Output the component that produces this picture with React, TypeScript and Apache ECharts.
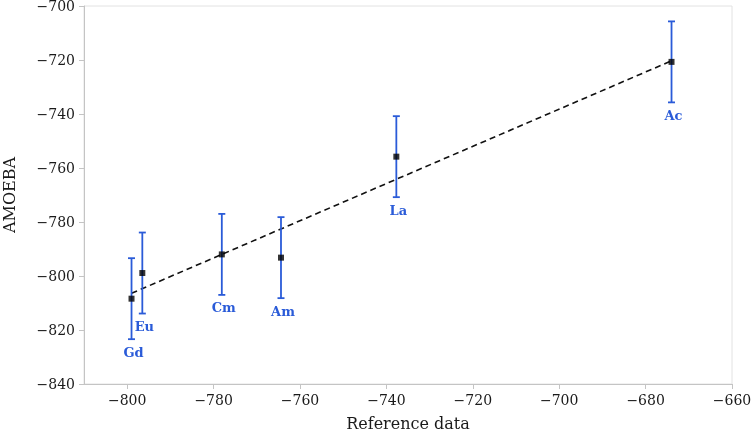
import React, { useEffect, useRef } from "react";
import * as echarts from "echarts";

const elements = ["Gd", "Eu", "Cm", "Am", "La", "Ac"];
const referenceValues = [-799.0, -796.5, -778.1, -764.4, -737.7, -674.0];
const amoebaValues = [-808.4, -798.9, -792.0, -793.2, -755.8, -720.7];
const errorValues = [15, 15, 15, 15, 15, 15];
const fitLineX = [-799.0, -674.0];
const fitLineY = [-806.4, -720.3];
const xTicks = [-800, -780, -760, -740, -720, -700, -680, -660];
const yTicks = [-840, -820, -800, -780, -760, -740, -720, -700];

const FONT = '"DejaVu Serif", serif';
const BLUE = "#2a5bd8";
const AXIS = "#c4c4c4";

const fmt = (v: number) => String(v).replace("-", "\u2212");

export default function App() {
  const ref = useRef<HTMLDivElement>(null);
  useEffect(() => {
    if (!ref.current) return;
    const chart = echarts.init(ref.current, undefined, { renderer: "svg" });
    const errData = referenceValues.map((x, i) => [
      x,
      amoebaValues[i],
      amoebaValues[i] - errorValues[i],
      amoebaValues[i] + errorValues[i],
    ]);
    chart.setOption({
      animation: false,
      grid: {
        left: 84,
        right: 20,
        top: 6,
        bottom: 47,
        show: true,
        borderColor: "#e2e2e2",
        borderWidth: 1,
        containLabel: false,
        outerBoundsMode: "none",
      },
      xAxis: {
        type: "value",
        min: -810,
        max: -660,
        name: "Reference data",
        nameLocation: "middle",
        nameGap: 31,
        nameTextStyle: { fontFamily: FONT, fontSize: 16, color: "#1a1a1a" },
        axisLine: { lineStyle: { color: AXIS, width: 1 } },
        axisTick: { show: true, length: 5, lineStyle: { color: AXIS }, customValues: xTicks },
        axisLabel: {
          customValues: xTicks,
          formatter: fmt,
          fontFamily: FONT,
          fontSize: 14,
          color: "#1a1a1a",
          margin: 9,
        },
        splitLine: { show: false },
      },
      yAxis: {
        type: "value",
        min: yTicks[0],
        max: yTicks[yTicks.length - 1],
        interval: 20,
        name: "AMOEBA",
        nameLocation: "middle",
        nameGap: 67,
        nameTextStyle: { fontFamily: FONT, fontSize: 16, color: "#1a1a1a" },
        axisLine: { show: true, lineStyle: { color: AXIS, width: 1 } },
        axisTick: { show: true, length: 5, lineStyle: { color: AXIS } },
        axisLabel: {
          formatter: fmt,
          fontFamily: FONT,
          fontSize: 14,
          color: "#1a1a1a",
          margin: 9,
        },
        splitLine: { show: false },
      },
      series: [
        {
          type: "line",
          data: fitLineX.map((x, i) => [x, fitLineY[i]]),
          symbol: "none",
          lineStyle: { color: "#111", width: 1.6, type: [6, 4] },
          z: 1,
        },
        {
          type: "custom",
          data: errData,
          z: 2,
          renderItem: (params: any, api: any) => {
            const x = api.value(0);
            const lo = api.coord([x, api.value(2)]);
            const hi = api.coord([x, api.value(3)]);
            const cap = 3.5;
            const ls = { stroke: BLUE, lineWidth: 1.8 };
            return {
              type: "group",
              children: [
                { type: "line", shape: { x1: hi[0], y1: hi[1], x2: lo[0], y2: lo[1] }, style: ls },
                { type: "line", shape: { x1: hi[0] - cap, y1: hi[1], x2: hi[0] + cap, y2: hi[1] }, style: ls },
                { type: "line", shape: { x1: lo[0] - cap, y1: lo[1], x2: lo[0] + cap, y2: lo[1] }, style: ls },
                {
                  type: "text",
                  style: {
                    text: elements[params.dataIndex],
                    x: lo[0] + 2,
                    y: lo[1] + 13,
                    fill: BLUE,
                    font: 'bold 13px "DejaVu Serif", serif',
                    align: "center",
                    verticalAlign: "middle",
                  },
                },
              ],
            };
          },
        },
        {
          type: "scatter",
          data: referenceValues.map((x, i) => [x, amoebaValues[i]]),
          symbol: "rect",
          symbolSize: 6,
          itemStyle: { color: "#000" },
          z: 3,
        },
      ],
    });
    return () => chart.dispose();
  }, []);
  return (
    <div
      ref={ref}
      style={{ position: "fixed", left: 0, top: 0, width: 752, height: 431 }}
    />
  );
}
